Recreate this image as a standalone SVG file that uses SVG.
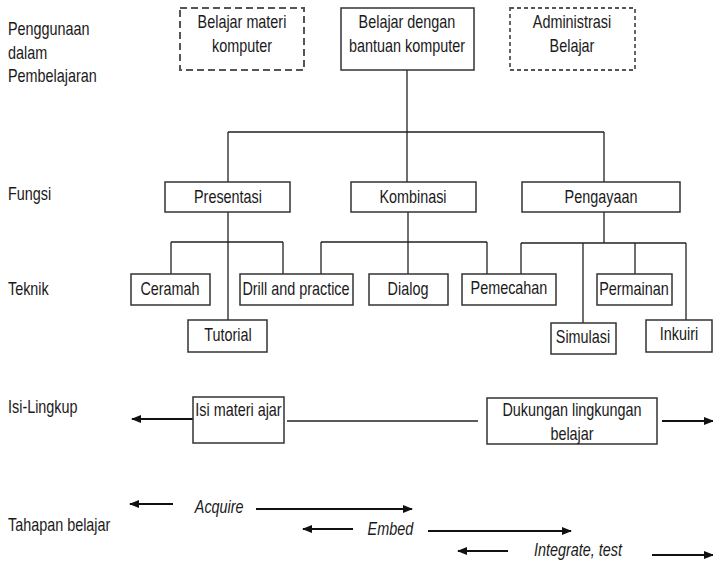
<svg xmlns="http://www.w3.org/2000/svg" width="713" height="562" viewBox="0 0 713 562">
<defs>
<style>
text{font-family:"Liberation Sans",Arial,sans-serif;font-size:18px;fill:#1a1a1a;transform:scale(0.8,1)}
.c{text-anchor:middle}
.i{font-style:italic}
.box{fill:#fff;stroke:#333;stroke-width:1.5}
.dash1{fill:#fff;stroke:#555;stroke-width:2;stroke-dasharray:7,4}
.dash2{fill:#fff;stroke:#555;stroke-width:1.8;stroke-dasharray:4,3}
.ln{fill:none;stroke:#222;stroke-width:1.3}
.ar{fill:none;stroke:#111;stroke-width:1.8;marker-end:url(#ah)}
</style>
<marker id="ah" markerWidth="10" markerHeight="8" refX="9" refY="4" orient="auto" markerUnits="userSpaceOnUse">
<path d="M0,0 L10,4 L0,8 z" fill="#111"/>
</marker>
</defs>
<rect width="713" height="562" fill="#fff"/>

<g id="labels">
<text x="10" y="35">Penggunaan</text>
<text x="10" y="59">dalam</text>
<text x="10" y="82">Pembelajaran</text>
<text x="10" y="200">Fungsi</text>
<text x="10" y="295">Teknik</text>
<text x="10" y="413">Isi-Lingkup</text>
<text x="10" y="531">Tahapan belajar</text>
</g>

<g id="connectors">
<path class="ln" d="M407,70 V132 M228,132 H604 M228,132 V182 M407,132 V182 M604,132 V182"/>
<path class="ln" d="M228,212 V320 M171,242 H283 M171,242 V274 M283,242 V274"/>
<path class="ln" d="M408,212 V274 M321,242 H487 M321,242 V274 M487,242 V274"/>
<path class="ln" d="M604,212 V243 M521,243 H686 M521,243 V274 M583,243 V323 M635,243 V274 M686,243 V320"/>
<path class="ln" d="M287,421 H478"/>
<path class="ar" d="M193,419 H132"/>
<path class="ar" d="M662,421 H713"/>
<path class="ar" d="M173,504 H130"/>
<path class="ar" d="M256,509 H412"/>
<path class="ar" d="M353,529 H303"/>
<path class="ar" d="M428,531 H571"/>
<path class="ar" d="M508,551 H458"/>
<path class="ar" d="M652,555 H713"/>
</g>

<g id="n-materi"><rect class="dash1" x="180" y="8" width="124" height="62"/><text class="c" x="302.5" y="28">Belajar materi</text><text class="c" x="302.5" y="52">komputer</text></g>
<g id="n-bantuan"><rect class="box" x="341" y="8" width="133" height="62"/><text class="c" x="508.75" y="28">Belajar dengan</text><text class="c" x="508.75" y="52">bantuan komputer</text></g>
<g id="n-admin"><rect class="dash2" x="510" y="8" width="125" height="62"/><text class="c" x="715" y="28">Administrasi</text><text class="c" x="715" y="52">Belajar</text></g>

<g id="n-presentasi"><rect class="box" x="165" y="182" width="125" height="30"/><text class="c" x="285" y="203">Presentasi</text></g>
<g id="n-kombinasi"><rect class="box" x="351" y="182" width="125" height="30"/><text class="c" x="516.25" y="203">Kombinasi</text></g>
<g id="n-pengayaan"><rect class="box" x="522" y="182" width="158" height="30"/><text class="c" x="751.25" y="203">Pengayaan</text></g>

<g id="n-ceramah"><rect class="box" x="131" y="274" width="79" height="31"/><text class="c" x="212.5" y="295">Ceramah</text></g>
<g id="n-drill"><rect class="box" x="240" y="274" width="113" height="31"/><text class="c" x="370" y="295">Drill and practice</text></g>
<g id="n-dialog"><rect class="box" x="369" y="274" width="79" height="31"/><text class="c" x="510" y="295">Dialog</text></g>
<g id="n-pemecahan"><rect class="box" x="462" y="274" width="94" height="31"/><text class="c" x="636.25" y="294">Pemecahan</text></g>
<g id="n-permainan"><rect class="box" x="597" y="274" width="75" height="31"/><text class="c" x="792.5" y="295">Permainan</text></g>
<g id="n-tutorial"><rect class="box" x="188" y="320" width="79" height="32"/><text class="c" x="285" y="341">Tutorial</text></g>
<g id="n-simulasi"><rect class="box" x="551" y="323" width="65" height="31"/><text class="c" x="728.75" y="343">Simulasi</text></g>
<g id="n-inkuiri"><rect class="box" x="646" y="320" width="66" height="32"/><text class="c" x="848.75" y="340">Inkuiri</text></g>

<g id="n-isi"><rect class="box" x="193" y="397" width="91" height="46"/><text class="c" x="298.1" y="416">Isi materi ajar</text></g>
<g id="n-dukungan"><rect class="box" x="487" y="398" width="170" height="46"/><text class="c" x="715" y="416">Dukungan lingkungan</text><text class="c" x="715" y="440">belajar</text></g>

<g id="stages">
<text class="c i" x="274" y="513">Acquire</text>
<text class="c i" x="488" y="535">Embed</text>
<text class="c i" x="722.5" y="556">Integrate, test</text>
</g>
</svg>
